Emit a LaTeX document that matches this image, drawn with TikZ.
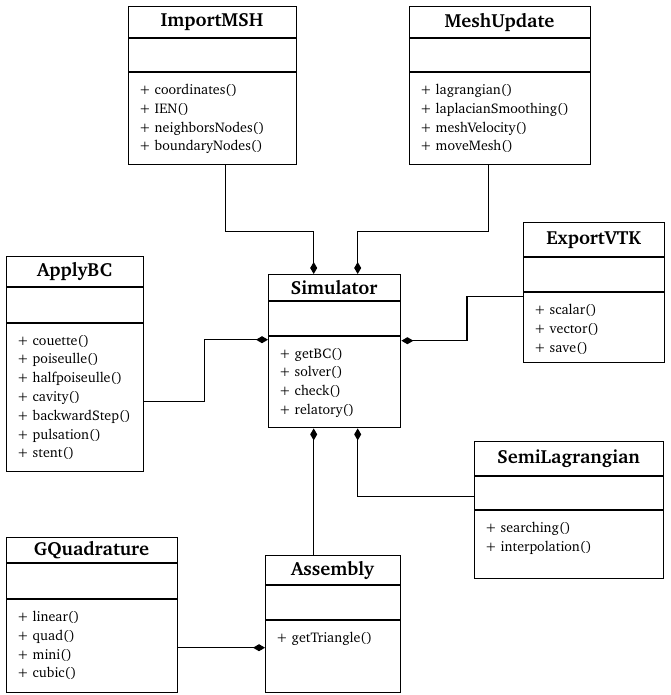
\documentclass[tikz,border=0pt]{standalone}
\usepackage[T1]{fontenc}
\renewcommand{\rmdefault}{bch}
\usepackage{tikz}
\usetikzlibrary{arrows.meta}
\usetikzlibrary{calc}
\tikzstyle{classbox} = [rectangle, draw, line width=1.4pt, inner sep=0pt]
\tikzstyle{classname} = [font=\fontsize{19}{21}\selectfont\bfseries, inner sep=0pt]
\tikzstyle{methods} = [font=\fontsize{14}{18.8}\selectfont, align=left, inner sep=0pt, anchor=north west]
\tikzstyle{line} = [draw, line width=1.4pt]
\tikzstyle{comp} = [draw, line width=1.4pt, -{Diamond[length=12pt,width=7pt]}]
% name, left, top, right, bottom, title line, attribute line, title, methods
\newcommand{\umlclass}[9]{%
  \node [classbox, anchor=north west, minimum width={(#4-#2)*1pt}, minimum height={(#5-#3)*1pt}] (#1) at (#2,#3) {};
  \path [line] (#2,#6) -- (#4,#6);
  \path [line] (#2,#7) -- (#4,#7);
  \node [classname] (#1-name) at ({(#2+#4)/2},{(#3+#6)/2}) {#8};
  \node [methods] (#1-ops) at (#2+11,#7+12) {#9};
}

\begin{document}
\begin{tikzpicture}[x=1pt, y=-1pt]
            \useasboundingbox (0,0) rectangle (670,695);
            % Place nodes
            \umlclass{ImportMSH}{128}{6}{296}{164}{38}{72}{ImportMSH}{+ coordinates()\\+ IEN()\\+ neighborsNodes()\\+ boundaryNodes()}
            \umlclass{MeshUpdate}{409}{6}{590}{164}{38}{72}{MeshUpdate}{+ lagrangian()\\+ laplacianSmoothing()\\+ meshVelocity()\\+ moveMesh()}
            \umlclass{ExportVTK}{523}{222}{664}{362}{257}{292}{ExportVTK}{+ scalar()\\+ vector()\\+ save()}
            \umlclass{ApplyBC}{6}{256}{143}{471}{287}{323}{ApplyBC}{+ couette()\\+ poiseulle()\\+ halfpoiseulle()\\+ cavity()\\+ backwardStep()\\+ pulsation()\\+ stent()}
            \umlclass{Simulator}{268}{274}{400}{427}{301}{336}{Simulator}{+ getBC()\\+ solver()\\+ check()\\+ relatory()}
            \umlclass{SemiLagrangian}{474}{441}{663}{578}{476}{510}{SemiLagrangian}{+ searching()\\+ interpolation()}
            \umlclass{GQuadrature}{6}{537}{177}{692}{563}{599}{GQuadrature}{+ linear()\\+ quad()\\+ mini()\\+ cubic()}
            \umlclass{Assembly}{265}{555}{400}{692}{585}{620}{Assembly}{+ getTriangle()}
            \coordinate (simTL) at ([xshift=-21]Simulator.north);
            \coordinate (simTR) at ([xshift=23]Simulator.north);
            \coordinate (simBL) at ([xshift=-21]Simulator.south);
            \coordinate (simBR) at ([xshift=23]Simulator.south);
            \coordinate (gq) at ([yshift=-32.5]GQuadrature.east);
            % Draw edges
            \path [comp] ([xshift=13]ImportMSH.south) -- ++(0,66) -| (simTL);
            \path [comp] ([xshift=-11.5]MeshUpdate.south) -- ++(0,66) -| (simTR);
            \path [comp] ([yshift=-4]ExportVTK.west) -- ++(-56,0) |- ([yshift=10.5]Simulator.east);
            \path [comp] ([yshift=-37.5]ApplyBC.east) -- ++(60,0) |- ([yshift=11.5]Simulator.west);
            \path [comp] ([yshift=13.5]SemiLagrangian.west) -| (simBR);
            \path [comp] (simBL |- Assembly.north) -- (simBL);
            \path [comp] (gq) -- (gq -| Assembly.west);
          \end{tikzpicture}
\end{document}
